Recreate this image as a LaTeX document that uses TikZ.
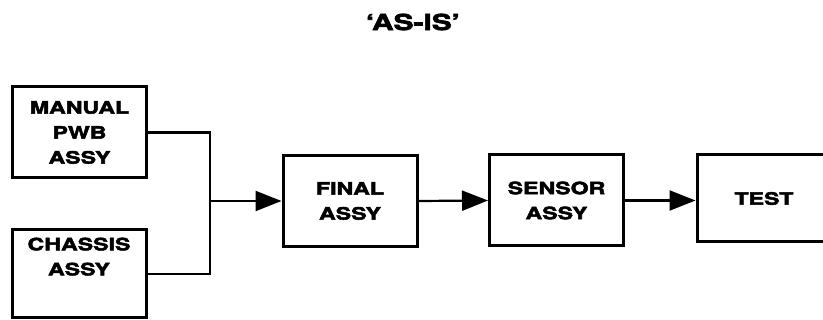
\documentclass[tikz,border=0pt]{standalone}
\usepackage{fontspec}
\usetikzlibrary{arrows.meta}
\newfontfamily\blockfont{TeX Gyre Heros}[FakeStretch=1.36,BoldFeatures={FakeBold=3}]

\begin{document}
\begin{tikzpicture}[x=1pt,y=-1pt,
   stage/.style={draw, line width=3pt, align=center, inner sep=0pt,
     minimum width=134pt, minimum height=91pt,
     font=\blockfont\bfseries\fontsize{17}{25}\selectfont},
   flow/.style={line width=2.2pt},
   feed/.style={flow, -{Triangle[length=26pt,width=20pt]}}]
  \clip (0,0) rectangle (823,320);
  \node[font=\blockfont\bfseries\fontsize{22}{24}\selectfont] (title) at (413,22) {‘AS-IS’};
  % assembly stages
  \node[stage] (pwb) at (79.5,132.5) {MANUAL\\PWB\\ASSY};
  \node[stage, minimum height=88pt] (chassis) at (79,274) {CHASSIS\\ASSY\\[10pt]};
  \node[stage] (final) at (350,201) {FINAL\\ASSY};
  \node[stage] (sensor) at (556.5,200.5) {SENSOR\\ASSY};
  \node[stage, minimum height=87pt] (test) at (764,198.5) {TEST};
  \coordinate (join) at (210,201);
  % the two sub-assemblies merge before final
  \draw[flow] (pwb.east) -- (pwb.east -| join) -- (chassis.east -| join) -- (chassis.east);
  \draw[feed] (join) -- (final.west);
  \draw[feed] (final.east) -- (sensor.west);
  \draw[feed] (sensor.east) -- (sensor.east -| test.west);
\end{tikzpicture}
\end{document}
